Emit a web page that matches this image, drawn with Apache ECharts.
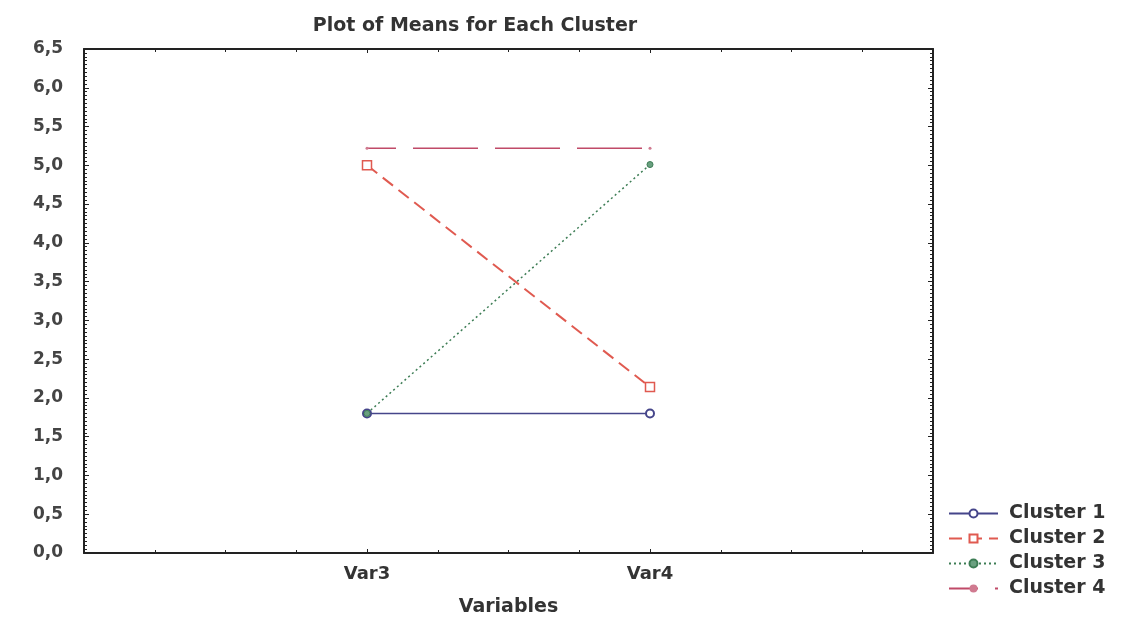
<!DOCTYPE html>
<html><head><meta charset="utf-8">
<script src="https://cdn.jsdelivr.net/npm/echarts@6/dist/echarts.min.js"></script>
<style>html,body{margin:0;padding:0;background:#fff}#c{width:1132px;height:619px}</style>
</head><body><div id="c"></div>
<script>
const categories = ['Var3', 'Var4'];
const yTicks = ['0,0','0,5','1,0','1,5','2,0','2,5','3,0','3,5','4,0','4,5','5,0','5,5','6,0','6,5'];
const cluster1 = [1.80, 1.80];
const cluster2 = [5.00, 2.14];
const cluster3 = [1.80, 5.01];
const cluster4 = [5.22, 5.22];

const font = 'DejaVu Sans, sans-serif';
const axisLine = {show: true, onZero: false, lineStyle: {color: '#222', width: 2}};
function pts(arr){ return arr.map((v,i)=>[i+1, v]); }

const chart = echarts.init(document.getElementById('c'));
chart.setOption({
  backgroundColor: '#fff',
  animation: false,
  title: {text: 'Plot of Means for Each Cluster', left: 470, top: 12, textAlign: 'center',
    textStyle: {fontFamily: font, fontSize: 19, fontWeight: 'bold', color: '#333'}},
  grid: {left: 84, right: 199, top: 49, bottom: 66, outerBoundsMode: 'none', containLabel: false},
  legend: {orient: 'vertical', left: 948, top: 504, padding: 0, itemGap: 6, itemWidth: 49, itemHeight: 10,
    textStyle: {fontFamily: font, fontSize: 19, fontWeight: 'bold', color: '#333', padding: [0,0,0,6]},
    data: ['Cluster 1','Cluster 2','Cluster 3','Cluster 4']},
  xAxis: [
    {type: 'value', min: 0, max: 3, interval: 1, position: 'bottom',
     name: 'Variables', nameLocation: 'middle', nameGap: 45,
     nameTextStyle: {fontFamily: font, fontSize: 19, fontWeight: 'bold', color: '#333'},
     axisLine: axisLine, splitLine: {show: false},
     axisTick: {show: true, inside: true, length: 4, lineStyle: {color: '#222'}},
     minorTick: {show: true, splitNumber: 4, length: 3, lineStyle: {color: '#222'}},
     axisLabel: {fontFamily: font, fontSize: 18, fontWeight: 'bold', color: '#333', margin: 12,
       formatter: v => (v >= 1 && v <= categories.length) ? categories[v-1] : ''}},
    {type: 'value', min: 0, max: 3, interval: 1, position: 'top',
     axisLine: axisLine, splitLine: {show: false},
     axisTick: {show: true, inside: true, length: 4, lineStyle: {color: '#222'}},
     minorTick: {show: true, splitNumber: 4, length: 3, lineStyle: {color: '#222'}},
     axisLabel: {show: false}}
  ],
  yAxis: [
    {type: 'value', min: 0, max: 6.5, interval: 0.5, position: 'left',
     axisLine: axisLine, splitLine: {show: false},
     axisTick: {show: true, inside: true, length: 5, lineStyle: {color: '#222'}},
     minorTick: {show: true, splitNumber: 10, length: 3, lineStyle: {color: '#222'}},
     axisLabel: {fontFamily: font, fontSize: 17, fontWeight: 'bold', color: '#444', margin: 21,
       formatter: v => yTicks[Math.round(v/0.5)]}},
    {type: 'value', min: 0, max: 6.5, interval: 0.5, position: 'right',
     axisLine: axisLine, splitLine: {show: false},
     axisTick: {show: true, inside: true, length: 5, lineStyle: {color: '#222'}},
     minorTick: {show: true, splitNumber: 10, length: 3, lineStyle: {color: '#222'}},
     axisLabel: {show: false}}
  ],
  series: [
    {name: 'Cluster 1', type: 'line', data: pts(cluster1), symbol: 'emptyCircle', symbolSize: 8,
     color: '#45458a', lineStyle: {color: '#45458a', width: 1.5, type: 'solid'},
     itemStyle: {color: '#45458a', borderColor: '#45458a', borderWidth: 1.5}},
    {name: 'Cluster 2', type: 'line', data: pts(cluster2), symbol: 'rect', symbolSize: 9,
     color: '#e05a50', lineStyle: {color: '#e05a50', width: 2, type: [13, 7]},
     itemStyle: {color: '#fff', borderColor: '#e05a50', borderWidth: 1.5}},
    {name: 'Cluster 3', type: 'line', data: pts(cluster3), symbol: 'circle', symbolSize: 6,
     color: '#3d7d55', lineStyle: {color: '#3d7d55', width: 1.5, type: [2, 3]},
     itemStyle: {color: '#6aa080', borderColor: '#3d7d55', borderWidth: 1}},
    {name: 'Cluster 4', type: 'line', data: pts(cluster4), symbol: 'circle', symbolSize: 3,
     color: '#c04a68', lineStyle: {color: '#c04a68', width: 1.5, type: [65, 17], dashOffset: 36},
     itemStyle: {color: '#d07a90'}}
  ]
});
</script></body></html>
